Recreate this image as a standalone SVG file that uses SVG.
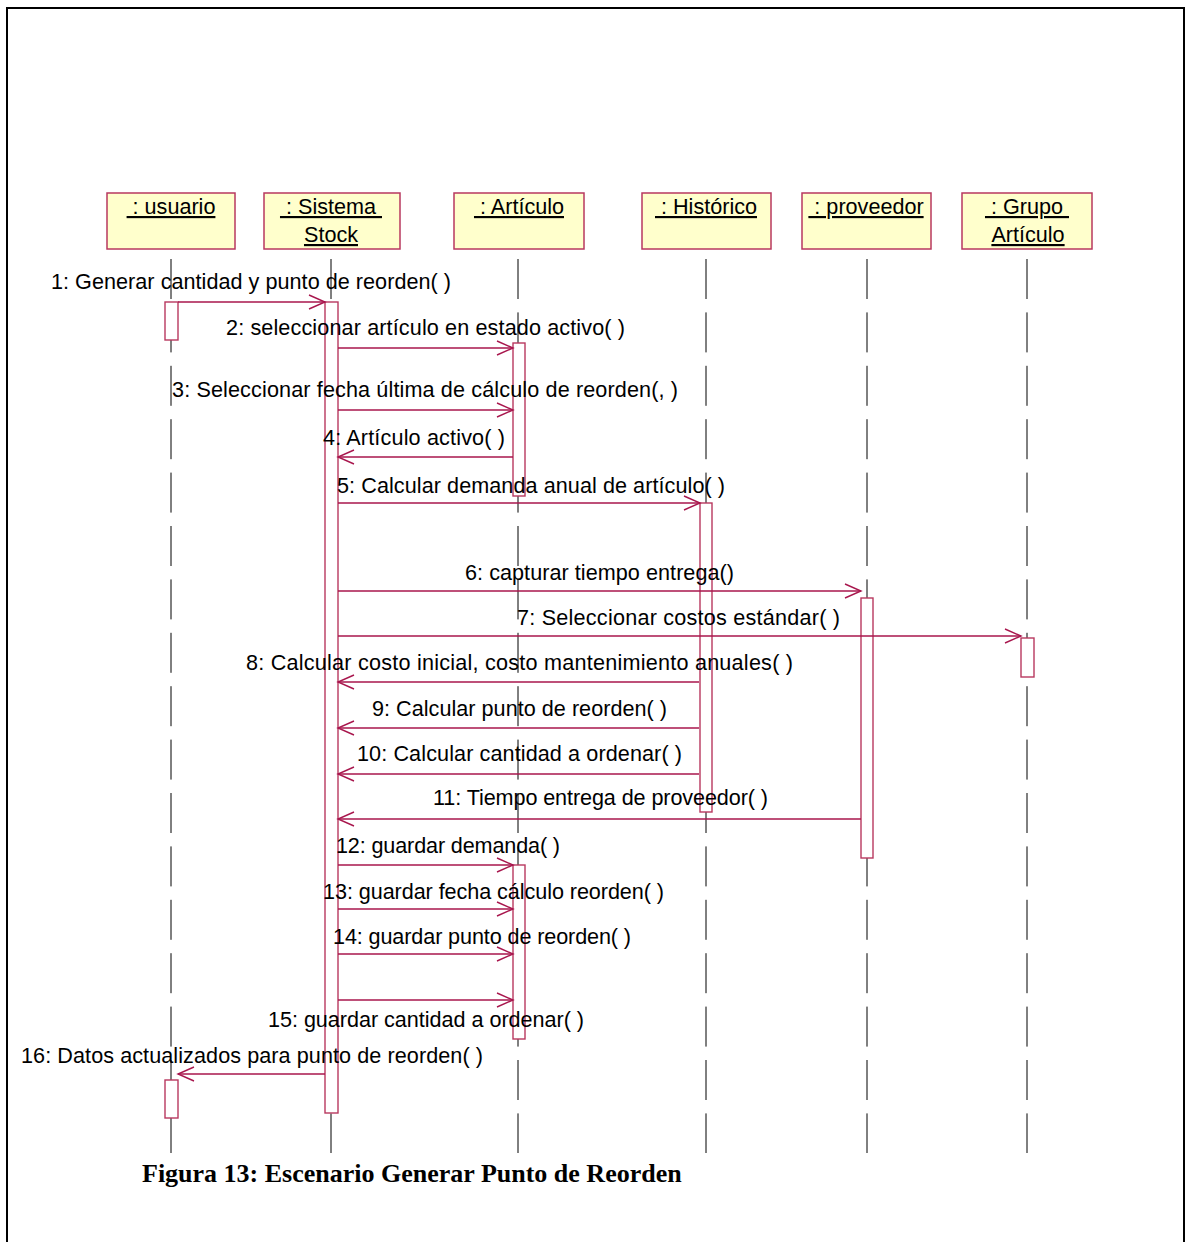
<svg xmlns="http://www.w3.org/2000/svg" width="1186" height="1242" viewBox="0 0 1186 1242">
  <style>
    .obj { fill: #FFFFCC; stroke: #B8385F; stroke-width: 1.5; }
    .objtxt { font-family: "Liberation Sans", Arial, sans-serif; font-size: 21.6px; fill: #000; text-anchor: middle; text-decoration: underline; white-space: pre; }
    .life { stroke: #000; stroke-width: 1; stroke-dasharray: 40 13.4; fill: none; }
    .act { fill: #FFFFFF; stroke: #B8385F; stroke-width: 1.4; }
    .msg { stroke: #A8164D; stroke-width: 1.3; fill: none; marker-end: url(#open); }
    .lbl { font-family: "Liberation Sans", Arial, sans-serif; font-size: 21.6px; fill: #000; }
    .cap { font-family: "Liberation Serif", "Times New Roman", serif; font-size: 26px; font-weight: bold; fill: #000; }
  </style>
  <defs>
    <marker id="open" viewBox="-18 -9 20 18" markerWidth="20" markerHeight="18" refX="0" refY="0" orient="auto" markerUnits="userSpaceOnUse">
      <path d="M-16,-7 L0,0 L-16,7" fill="none" stroke="#A8164D" stroke-width="1.4"/>
    </marker>
  </defs>

  <rect width="1186" height="1242" fill="#FFFFFF"/>
  <!-- page frame, open at the bottom -->
  <path d="M7,1242 V8 H1184 V1242" fill="none" stroke="#000" stroke-width="2"/>

  <!-- lifelines -->
  <g id="lifelines">
    <line class="life" x1="171" y1="259" x2="171" y2="1153"/>
    <line class="life" x1="331" y1="259" x2="331" y2="1153"/>
    <line class="life" x1="518" y1="259" x2="518" y2="1153"/>
    <line class="life" x1="706" y1="259" x2="706" y2="1153"/>
    <line class="life" x1="867" y1="259" x2="867" y2="1153"/>
    <line class="life" x1="1027" y1="259" x2="1027" y2="1153"/>
  </g>

  <!-- objects -->
  <g id="usuario">
    <rect class="obj" x="107" y="193" width="128" height="56"/>
    <text class="objtxt" x="171" y="214" xml:space="preserve"> : usuario</text>
    <rect class="act" x="165" y="302" width="13" height="38"/>
    <rect class="act" x="165" y="1080" width="13" height="38"/>
  </g>
  <g id="sistema-stock">
    <rect class="obj" x="264" y="193" width="136" height="56"/>
    <text class="objtxt" x="331" y="214" xml:space="preserve"> : Sistema </text>
    <text class="objtxt" x="331" y="242">Stock</text>
    <rect class="act" x="325" y="302" width="13" height="811"/>
  </g>
  <g id="articulo">
    <rect class="obj" x="454" y="193" width="130" height="56"/>
    <text class="objtxt" x="519" y="214" xml:space="preserve"> : Artículo</text>
    <rect class="act" x="513" y="343" width="12" height="153"/>
    <rect class="act" x="513" y="865" width="12" height="174"/>
  </g>
  <g id="historico">
    <rect class="obj" x="642" y="193" width="129" height="56"/>
    <text class="objtxt" x="706" y="214" xml:space="preserve"> : Histórico</text>
    <rect class="act" x="700" y="503" width="12" height="309"/>
  </g>
  <g id="proveedor">
    <rect class="obj" x="802" y="193" width="129" height="56"/>
    <text class="objtxt" x="866" y="214" xml:space="preserve"> : proveedor</text>
    <rect class="act" x="861" y="598" width="12" height="260"/>
  </g>
  <g id="grupo-articulo">
    <rect class="obj" x="962" y="193" width="130" height="56"/>
    <text class="objtxt" x="1027" y="214" xml:space="preserve"> : Grupo </text>
    <text class="objtxt" x="1028" y="242">Artículo</text>
    <rect class="act" x="1021" y="638" width="13" height="39"/>
  </g>

  <!-- messages -->
  <g id="messages">
    <line class="msg" x1="178" y1="302" x2="325" y2="302"/>
    <line class="msg" x1="338" y1="348" x2="513" y2="348"/>
    <line class="msg" x1="338" y1="410" x2="513" y2="410"/>
    <line class="msg" x1="513" y1="457" x2="338" y2="457"/>
    <line class="msg" x1="338" y1="503" x2="700" y2="503"/>
    <line class="msg" x1="338" y1="591" x2="861" y2="591"/>
    <line class="msg" x1="338" y1="636" x2="1021" y2="636"/>
    <line class="msg" x1="699" y1="682" x2="338" y2="682"/>
    <line class="msg" x1="699" y1="728" x2="338" y2="728"/>
    <line class="msg" x1="699" y1="774" x2="338" y2="774"/>
    <line class="msg" x1="861" y1="819" x2="338" y2="819"/>
    <line class="msg" x1="338" y1="865" x2="513" y2="865"/>
    <line class="msg" x1="338" y1="909" x2="513" y2="909"/>
    <line class="msg" x1="338" y1="954" x2="513" y2="954"/>
    <line class="msg" x1="338" y1="1000" x2="513" y2="1000"/>
    <line class="msg" x1="325" y1="1074" x2="178" y2="1074"/>
  </g>

  <!-- message labels -->
  <g id="labels">
    <text class="lbl" x="51" y="289" textLength="400" lengthAdjust="spacing">1: Generar cantidad y punto de reorden( )</text>
    <text class="lbl" x="226" y="335" textLength="399" lengthAdjust="spacing">2: seleccionar artículo en estado activo( )</text>
    <text class="lbl" x="172" y="397" textLength="506" lengthAdjust="spacing">3: Seleccionar fecha última de cálculo de reorden(, )</text>
    <text class="lbl" x="323" y="445" textLength="182" lengthAdjust="spacing">4: Artículo activo( )</text>
    <text class="lbl" x="337" y="493" textLength="388" lengthAdjust="spacing">5: Calcular demanda anual de artículo( )</text>
    <text class="lbl" x="465" y="580" textLength="269" lengthAdjust="spacing">6: capturar tiempo entrega()</text>
    <text class="lbl" x="517" y="625" textLength="323" lengthAdjust="spacing">7: Seleccionar costos estándar( )</text>
    <text class="lbl" x="246" y="670" textLength="547" lengthAdjust="spacing">8: Calcular costo inicial, costo mantenimiento anuales( )</text>
    <text class="lbl" x="372" y="716" textLength="295" lengthAdjust="spacing">9: Calcular punto de reorden( )</text>
    <text class="lbl" x="357" y="761" textLength="325" lengthAdjust="spacing">10: Calcular cantidad a ordenar( )</text>
    <text class="lbl" x="433" y="805" textLength="335" lengthAdjust="spacing">11: Tiempo entrega de proveedor( )</text>
    <text class="lbl" x="336" y="853" textLength="224" lengthAdjust="spacing">12: guardar demanda( )</text>
    <text class="lbl" x="323" y="899" textLength="341" lengthAdjust="spacing">13: guardar fecha cálculo reorden( )</text>
    <text class="lbl" x="333" y="944" textLength="298" lengthAdjust="spacing">14: guardar punto de reorden( )</text>
    <text class="lbl" x="268" y="1027" textLength="316" lengthAdjust="spacing">15: guardar cantidad a ordenar( )</text>
    <text class="lbl" x="21" y="1063" textLength="462" lengthAdjust="spacing">16: Datos actualizados para punto de reorden( )</text>
  </g>

  <text class="cap" x="142" y="1182">Figura 13: Escenario Generar Punto de Reorden</text>
</svg>
